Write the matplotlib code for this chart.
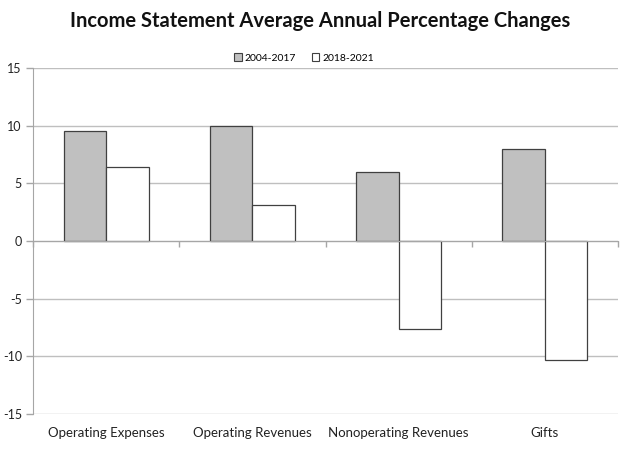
import matplotlib
matplotlib.use("Agg")
import matplotlib.pyplot as plt
import numpy as np
from matplotlib.patches import Patch

categories = ["Operating Expenses", "Operating Revenues", "Nonoperating Revenues", "Gifts"]
series_names = ["2004-2017", "2018-2021"]
vals_2004_2017 = [9.55, 9.95, 5.95, 8.0]
vals_2018_2021 = [6.45, 3.1, -7.6, -10.35]
yticks = [-15, -10, -5, 0, 5, 10, 15]

plt.rcParams['font.family'] = ['Lato', 'DejaVu Sans']

fig = plt.figure(figsize=(6.4, 4.54), dpi=100)
ax = fig.add_axes([33/640, 1 - 414/454, 585/640, 346/454])

x = np.arange(len(categories))
w = 0.29
ax.bar(x - w/2, vals_2004_2017, w, color="#C0C0C0", edgecolor="#404040", linewidth=0.9, zorder=3)
ax.bar(x + w/2, vals_2018_2021, w, color="#FFFFFF", edgecolor="#404040", linewidth=0.9, zorder=3)

ax.set_xlim(-0.5, len(categories) - 0.5)
ax.set_ylim(-15, 15)
ax.set_yticks(yticks)
ax.set_yticklabels([str(t) for t in yticks], fontsize=9, color="#222222")
ax.tick_params(axis='y', length=5, color="#A6A6A6", width=1, pad=3)
ax.yaxis.grid(True, color="#BFBFBF", linewidth=1, zorder=0)

for s in ['top', 'right']:
    ax.spines[s].set_visible(False)
ax.spines['left'].set_color("#A6A6A6")
ax.spines['bottom'].set_position(('data', 0))
ax.spines['bottom'].set_color("#A6A6A6")
ax.spines['bottom'].set_zorder(4)
ax.set_xticks(np.arange(len(categories) + 1) - 0.5)
ax.set_xticklabels([])
ax.tick_params(axis='x', length=4, color="#A6A6A6", width=1)

for i, c in enumerate(categories):
    ax.text(i, -0.037, c, transform=ax.get_xaxis_transform(), ha='center', va='top',
            fontsize=9.5, color="#222222")

fig.text(0.5, 1 - 21/454, "Income Statement Average Annual Percentage Changes",
         ha='center', va='center', fontsize=14.5, fontweight='bold', color="#111111")

handles = [Patch(facecolor="#C0C0C0", edgecolor="#404040", linewidth=0.8),
           Patch(facecolor="#FFFFFF", edgecolor="#404040", linewidth=0.8)]
fig.legend(handles, series_names, loc='center', bbox_to_anchor=(0.475, 1 - 58/454),
           ncol=2, frameon=False, fontsize=7.5, handlelength=0.7, handleheight=0.7,
           handletextpad=0.3, columnspacing=1.5)

fig.savefig("out.png", dpi=100)
